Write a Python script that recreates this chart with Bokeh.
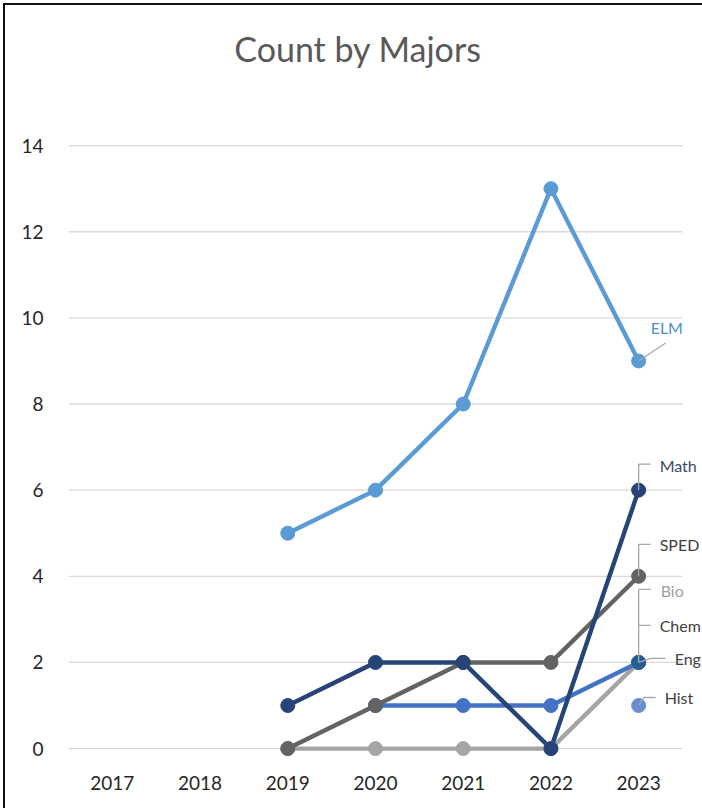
import math
from bokeh.plotting import figure
from bokeh.models import Range1d, FixedTicker, Label
from bokeh.embed import file_html
from bokeh.resources import INLINE

# ---------------- data ----------------
title = "Count by Majors"
years = [2017, 2018, 2019, 2020, 2021, 2022, 2023]
year_labels = ["2017", "2018", "2019", "2020", "2021", "2022", "2023"]
y_ticks = [0, 2, 4, 6, 8, 10, 12, 14]
nan = float("nan")

series_names = ["ELM", "Bio", "Chem", "SPED", "Math", "Eng", "Hist"]
elm = [nan, nan, 5, 6, 8, 13, 9]
bio = [nan, nan, 0, 0, 0, 0, 2]
chem = [nan, nan, nan, 1, 1, 1, 2]
sped = [nan, nan, 0, 1, 2, 2, 4]
math_ = [nan, nan, 1, 2, 2, 0, 6]
eng = [nan, nan, nan, nan, nan, nan, 2]
hist = [nan, nan, nan, nan, nan, nan, 1]
values = [elm, bio, chem, sped, math_, eng, hist]

# ---------------- style ----------------
colors = ["#5B9BD5", "#A5A5A5", "#4472C4", "#636363", "#264478", "#255E91", "#698ED0"]
label_colors = ["#4f8fcd", "#a0a0a0", "#404040", "#404040", "#3b4a63", "#404040", "#404040"]
# label offsets in pixels from last point (dx right, dy down) and leader paths
label_off = {
    "ELM": (12, -33), "Math": (21, -25), "SPED": (21, -32), "Bio": (22, -72),
    "Chem": (21, -37), "Eng": (36, -4), "Hist": (26, -8),
}
leaders = {
    "ELM": [(0, 0), (27, -18)],
    "Math": [(0, 0), (0, -26), (12, -26)],
    "SPED": [(0, 0), (0, -32), (12, -32)],
    "Bio": [(0, 0), (0, -73), (12, -73)],
    "Chem": [(0, -37), (12, -37)],
    "Eng": [(0, 0), (12, -4), (27, -4)],
    "Hist": [(0, 0), (5, -8), (17, -8)],
}

W, H = 702, 808
BL, BR, BT, BB = 68, 0, 0, 47
CAT_W = 614                       # pixel width of the category band
Y_UNIT = 43.07                    # pixels per count unit
TITLE_CX, TITLE_CY = 357.5, 48    # title centre, screen pixels
x0 = years[0] - 0.5
x_cat_end = years[-1] + 0.5
XS = CAT_W / (x_cat_end - x0)
x1 = x0 + (W - BL - BR) / XS      # frame extends right to leave room for labels
y0 = -0.3
YS = Y_UNIT
y1 = y0 + (H - BT - BB) / YS      # frame extends up to hold the title

FONT = "Lato"

p = figure(width=W, height=H, output_backend="svg", toolbar_location=None,
           x_range=Range1d(x0, x1), y_range=Range1d(y0, y1),
           min_border_left=BL, min_border_right=BR, min_border_top=BT, min_border_bottom=BB)
p.styles = {"box-shadow": "inset 3px 3px 0 0 #fff, inset 5px 5px 0 0 #111"}
p.outline_line_color = None
p.background_fill_color = None
p.border_fill_color = None

p.xgrid.visible = False
p.ygrid.visible = False
# horizontal gridlines across the category band only
p.segment(x0=[x0] * len(y_ticks), x1=[x_cat_end] * len(y_ticks), y0=y_ticks, y1=y_ticks,
          line_color="#d9d9d9", line_width=1.3)

p.yaxis.ticker = FixedTicker(ticks=y_ticks)
p.xaxis.ticker = FixedTicker(ticks=years)
p.xaxis.major_label_overrides = {y: s for y, s in zip(years, year_labels)}
for ax in (p.xaxis[0], p.yaxis[0]):
    ax.axis_line_color = None
    ax.major_tick_line_color = None
    ax.minor_tick_line_color = None
    ax.major_label_text_font = FONT
    ax.major_label_text_font_size = "19px"
    ax.major_label_text_color = "#262626"
p.yaxis.major_label_standoff = 19
p.xaxis.major_label_standoff = 8

# title (inside the extended frame)
p.add_layout(Label(x=x0 + (TITLE_CX - BL) / XS, y=y0 + (H - BB - TITLE_CY) / YS, text=title,
                   text_font=FONT, text_font_size="34px", text_color="#595959",
                   text_align="center", text_baseline="middle"))

# lines first, then markers (as Excel draws)
for name, vals, c in zip(series_names, values, colors):
    p.line(years, vals, line_color=c, line_width=4.4, line_join="round")
for name, vals, c in zip(series_names, values, colors):
    p.scatter(years, vals, size=14, fill_color=c, line_color=c)

# data labels with leader lines
for name, vals, lc in zip(series_names, values, label_colors):
    xv, yv = years[-1], vals[-1]
    pts = leaders[name]
    p.line([xv + dx / XS for dx, dy in pts], [yv - dy / YS for dx, dy in pts],
           line_color="#a6a6a6", line_width=1.3)
    dx, dy = label_off[name]
    p.add_layout(Label(x=xv, y=yv, x_offset=dx, y_offset=-dy, text=name,
                       text_font=FONT, text_font_size="16px", text_color=lc,
                       text_baseline="middle", text_align="left"))

open("out.html", "w").write(file_html(p, INLINE))
